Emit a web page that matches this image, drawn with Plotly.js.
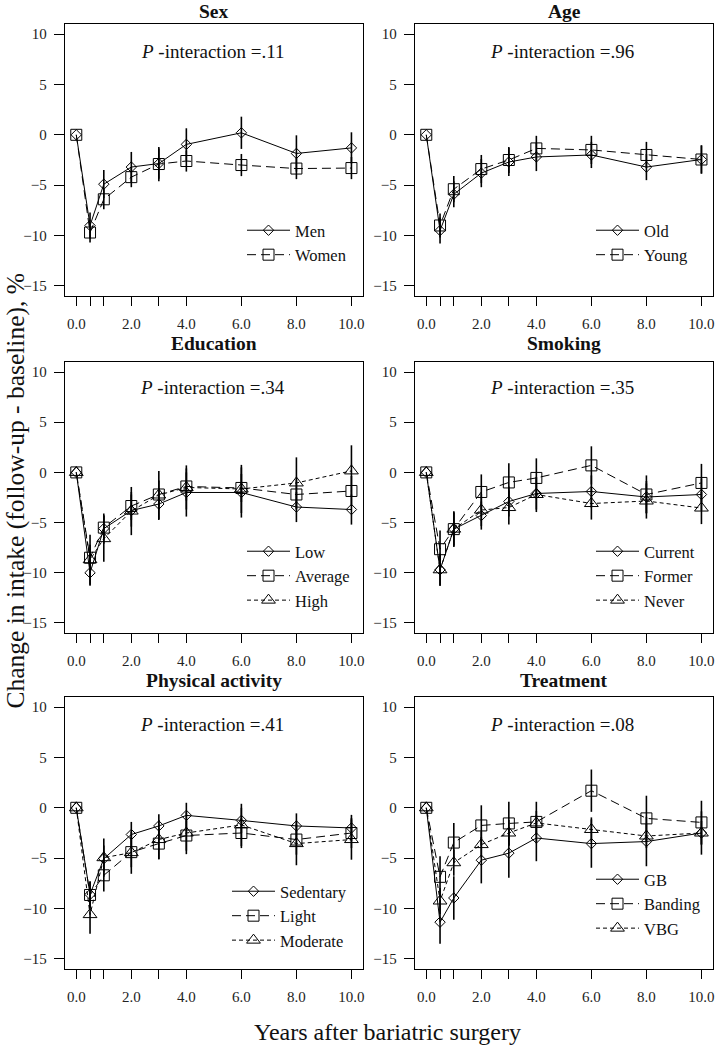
<!DOCTYPE html>
<html>
<head>
<meta charset="utf-8">
<script src="https://cdn.plot.ly/plotly-3.0.1.min.js"></script>
<style>html,body{margin:0;padding:0;background:#fff;}#chart{width:715px;height:1050px;}</style>
</head>
<body>
<div id="chart"></div>
<script>
// ---------- data ----------
const years = [0, 0.5, 1, 2, 3, 4, 6, 8, 10];
const xTickVals = [0, 0.5, 1, 2, 3, 4, 6, 8, 10];
const xTickText = ['0.0', '', '', '2.0', '', '4.0', '6.0', '8.0', '10.0'];
const yTickVals = [10, 5, 0, -5, -10, -15];

const panelTitles = ['Sex', 'Age', 'Education', 'Smoking', 'Physical activity', 'Treatment'];
const pInteraction = ['.11', '.96', '.34', '.35', '.41', '.08'];

// Sex
const sexNames = ['Men', 'Women'];
const sexMen = [0, -9.0, -4.9, -3.2, -2.85, -0.95, 0.2, -1.85, -1.3];
const sexMenErr = [0, 1.3, 1.4, 1.5, 1.5, 1.6, 1.6, 1.8, 1.55];
const sexWomen = [0, -9.7, -6.4, -4.2, -2.9, -2.6, -3.0, -3.35, -3.3];
const sexWomenErr = [0, 1.0, 1.0, 1.0, 1.7, 1.05, 1.1, 1.05, 1.1];

// Age
const ageNames = ['Old', 'Young'];
const ageOld = [0, -9.5, -5.9, -3.8, -2.7, -2.2, -2.0, -3.2, -2.45];
const ageOldErr = [0, 1.3, 1.3, 1.4, 1.4, 1.4, 1.3, 1.3, 1.4];
const ageYoung = [0, -9.0, -5.4, -3.4, -2.5, -1.35, -1.5, -2.0, -2.45];
const ageYoungErr = [0, 1.2, 1.3, 1.4, 1.3, 1.25, 1.4, 1.3, 1.4];

// Education
const eduNames = ['Low', 'Average', 'High'];
const eduLow = [0, -10.0, -5.6, -3.8, -3.15, -2.0, -2.0, -3.45, -3.7];
const eduLowErr = [0, 1.3, 1.5, 1.6, 1.6, 2.4, 2.5, 1.5, 1.5];
const eduAverage = [0, -8.5, -5.5, -3.35, -2.2, -1.4, -1.55, -2.2, -1.85];
const eduAverageErr = [0, 1.3, 1.2, 1.4, 1.4, 1.4, 1.4, 1.5, 1.5];
const eduHigh = [0, -8.7, -6.6, -3.85, -2.25, -1.5, -1.65, -1.05, 0.15];
const eduHighErr = [0, 2.5, 2.3, 2.4, 2.4, 2.2, 2.4, 2.55, 2.55];

// Smoking
const smkNames = ['Current', 'Former', 'Never'];
const smkCurrent = [0, -9.7, -5.65, -4.3, -2.9, -2.1, -1.9, -2.45, -2.2];
const smkCurrentErr = [0, 1.6, 1.6, 1.4, 1.5, 1.6, 1.6, 1.6, 1.6];
const smkFormer = [0, -7.65, -5.65, -1.95, -1.0, -0.55, 0.7, -2.2, -1.05];
const smkFormerErr = [0, 1.85, 1.75, 1.75, 1.9, 1.95, 1.9, 1.9, 1.9];
const smkNever = [0, -9.7, -5.65, -3.75, -3.5, -2.2, -3.1, -2.85, -3.55];
const smkNeverErr = [0, 1.6, 1.75, 1.6, 1.7, 1.75, 1.6, 1.75, 1.6];

// Physical activity
const paNames = ['Sedentary', 'Light', 'Moderate'];
const paSedentary = [0, -8.6, -5.05, -2.65, -1.8, -0.75, -1.25, -1.8, -2.0];
const paSedentaryErr = [0, 1.3, 1.3, 1.25, 1.15, 1.25, 1.25, 1.25, 1.3];
const paLight = [0, -8.65, -6.7, -4.4, -3.55, -2.75, -2.5, -3.15, -2.5];
const paLightErr = [0, 1.3, 1.6, 1.5, 1.55, 1.5, 1.5, 1.5, 1.5];
const paModerate = [0, -10.6, -4.95, -4.45, -3.15, -2.5, -1.7, -3.55, -3.15];
const paModerateErr = [0, 1.9, 1.9, 2.1, 1.95, 2.1, 2.1, 2.15, 2.0];

// Treatment
const trtNames = ['GB', 'Banding', 'VBG'];
const trtGB = [0, -11.35, -8.95, -5.2, -4.5, -3.0, -3.55, -3.35, -2.5];
const trtGBErr = [0, 2.15, 2.15, 2.3, 2.45, 2.3, 2.4, 2.45, 2.15];
const trtBanding = [0, -6.85, -3.45, -1.75, -1.55, -1.4, 1.7, -1.05, -1.45];
const trtBandingErr = [0, 2.05, 1.95, 2.0, 2.15, 2.0, 2.1, 2.25, 2.15];
const trtVBG = [0, -9.25, -5.45, -3.65, -2.5, -1.5, -2.15, -2.8, -2.5];
const trtVBGErr = [0, 1.3, 1.3, 1.3, 1.3, 1.2, 1.2, 1.2, 1.2];

const panels = [
  {names: sexNames, ys: [sexMen, sexWomen], errs: [sexMenErr, sexWomenErr]},
  {names: ageNames, ys: [ageOld, ageYoung], errs: [ageOldErr, ageYoungErr]},
  {names: eduNames, ys: [eduLow, eduAverage, eduHigh], errs: [eduLowErr, eduAverageErr, eduHighErr]},
  {names: smkNames, ys: [smkCurrent, smkFormer, smkNever], errs: [smkCurrentErr, smkFormerErr, smkNeverErr]},
  {names: paNames, ys: [paSedentary, paLight, paModerate], errs: [paSedentaryErr, paLightErr, paModerateErr]},
  {names: trtNames, ys: [trtGB, trtBanding, trtVBG], errs: [trtGBErr, trtBandingErr, trtVBGErr]}
];

// ---------- styling ----------
const W = 715, H = 1050;
const styles = [
  {dash: 'solid', symbol: 'diamond-open', size: 8},
  {dash: '9px,5px', symbol: 'square-open', size: 11},
  {dash: '4px,3px', symbol: 'triangle-up-open', size: 12}
];
const colX = [[65, 363], [415, 713]];
const rowY = [[24, 296], [362, 633], [697, 969]];
const titleY = [11.5, 343, 680];
const pY = [51.7, 387.3, 724];
// legend top-left (px) for each panel
const legendPos = [[242, 213], [591, 213], [242, 534], [591, 534], [227, 874], [591, 862]];

const traces = [];
const layout = {
  width: W, height: H,
  margin: {l: 0, r: 0, t: 0, b: 0},
  paper_bgcolor: '#fff', plot_bgcolor: '#fff',
  font: {family: 'Liberation Serif, Times New Roman, serif', color: '#111'},
  showlegend: true,
  annotations: []
};

panels.forEach((p, i) => {
  const k = i + 1;
  const col = i % 2, row = Math.floor(i / 2);
  const xa = 'x' + (k === 1 ? '' : k), ya = 'y' + (k === 1 ? '' : k);
  const legName = 'legend' + (k === 1 ? '' : k);
  p.ys.forEach((yv, j) => {
    traces.push({
      type: 'scatter', mode: 'lines+markers',
      x: years, y: yv, name: p.names[j],
      xaxis: xa, yaxis: ya, legend: legName,
      line: {color: '#000', width: 1, dash: styles[j].dash},
      marker: {symbol: styles[j].symbol, size: styles[j].size, color: '#000', line: {color: '#000', width: 1}},
      error_y: {type: 'data', array: p.errs[j], visible: true, color: '#000', thickness: 1.6, width: 0}
    });
  });
  const xd = [colX[col][0] / W, colX[col][1] / W];
  const yd = [1 - rowY[row][1] / H, 1 - rowY[row][0] / H];
  layout['xaxis' + (k === 1 ? '' : k)] = {
    domain: xd, anchor: ya, range: [-0.41, 10.42],
    tickmode: 'array', tickvals: xTickVals, ticktext: xTickText,
    ticks: 'outside', ticklen: 9, tickwidth: 1, tickcolor: '#000',
    showline: true, mirror: true, linecolor: '#000', linewidth: 1.3,
    showgrid: false, zeroline: false, fixedrange: true,
    tickfont: {size: 15, color: '#222'}, ticklabelstandoff: 5
  };
  layout['yaxis' + (k === 1 ? '' : k)] = {
    domain: yd, anchor: xa, range: [-16, 11],
    tickmode: 'array', tickvals: yTickVals,
    ticks: 'outside', ticklen: 10, tickwidth: 1, tickcolor: '#000',
    showline: true, mirror: true, linecolor: '#000', linewidth: 1.3,
    showgrid: false, zeroline: false, fixedrange: true,
    tickfont: {size: 15, color: '#222'}, ticklabelstandoff: 4
  };
  layout[legName] = {
    x: legendPos[i][0] / W, y: 1 - legendPos[i][1] / H,
    xanchor: 'left', yanchor: 'top',
    bgcolor: 'rgba(0,0,0,0)', borderwidth: 0, itemwidth: 43,
    font: {size: 16.5, color: '#111'}, tracegroupgap: 0
  };
  const cx = (colX[col][0] + colX[col][1]) / 2;
  layout.annotations.push({
    xref: 'paper', yref: 'paper', x: cx / W, y: 1 - titleY[row] / H,
    xanchor: 'center', yanchor: 'middle', showarrow: false,
    text: '<b>' + panelTitles[i] + '</b>', font: {size: 19.5, color: '#111'}
  });
  layout.annotations.push({
    xref: 'paper', yref: 'paper', x: (cx - 2) / W, y: 1 - pY[row] / H,
    xanchor: 'center', yanchor: 'middle', showarrow: false,
    text: '<i>P</i> -interaction =' + pInteraction[i], font: {size: 19, color: '#111'}
  });
});

layout.annotations.push({
  xref: 'paper', yref: 'paper', x: 14.5 / W, y: 1 - 491 / H,
  xanchor: 'center', yanchor: 'middle', showarrow: false, textangle: -90,
  text: 'Change in intake (follow-up - baseline), %', font: {size: 25.5, color: '#111'}
});
layout.annotations.push({
  xref: 'paper', yref: 'paper', x: 387.5 / W, y: 1 - 1031.7 / H,
  xanchor: 'center', yanchor: 'middle', showarrow: false,
  text: 'Years after bariatric surgery', font: {size: 24, color: '#111'}
});

Plotly.newPlot('chart', traces, layout, {displayModeBar: false, staticPlot: true});
</script>
</body>
</html>
